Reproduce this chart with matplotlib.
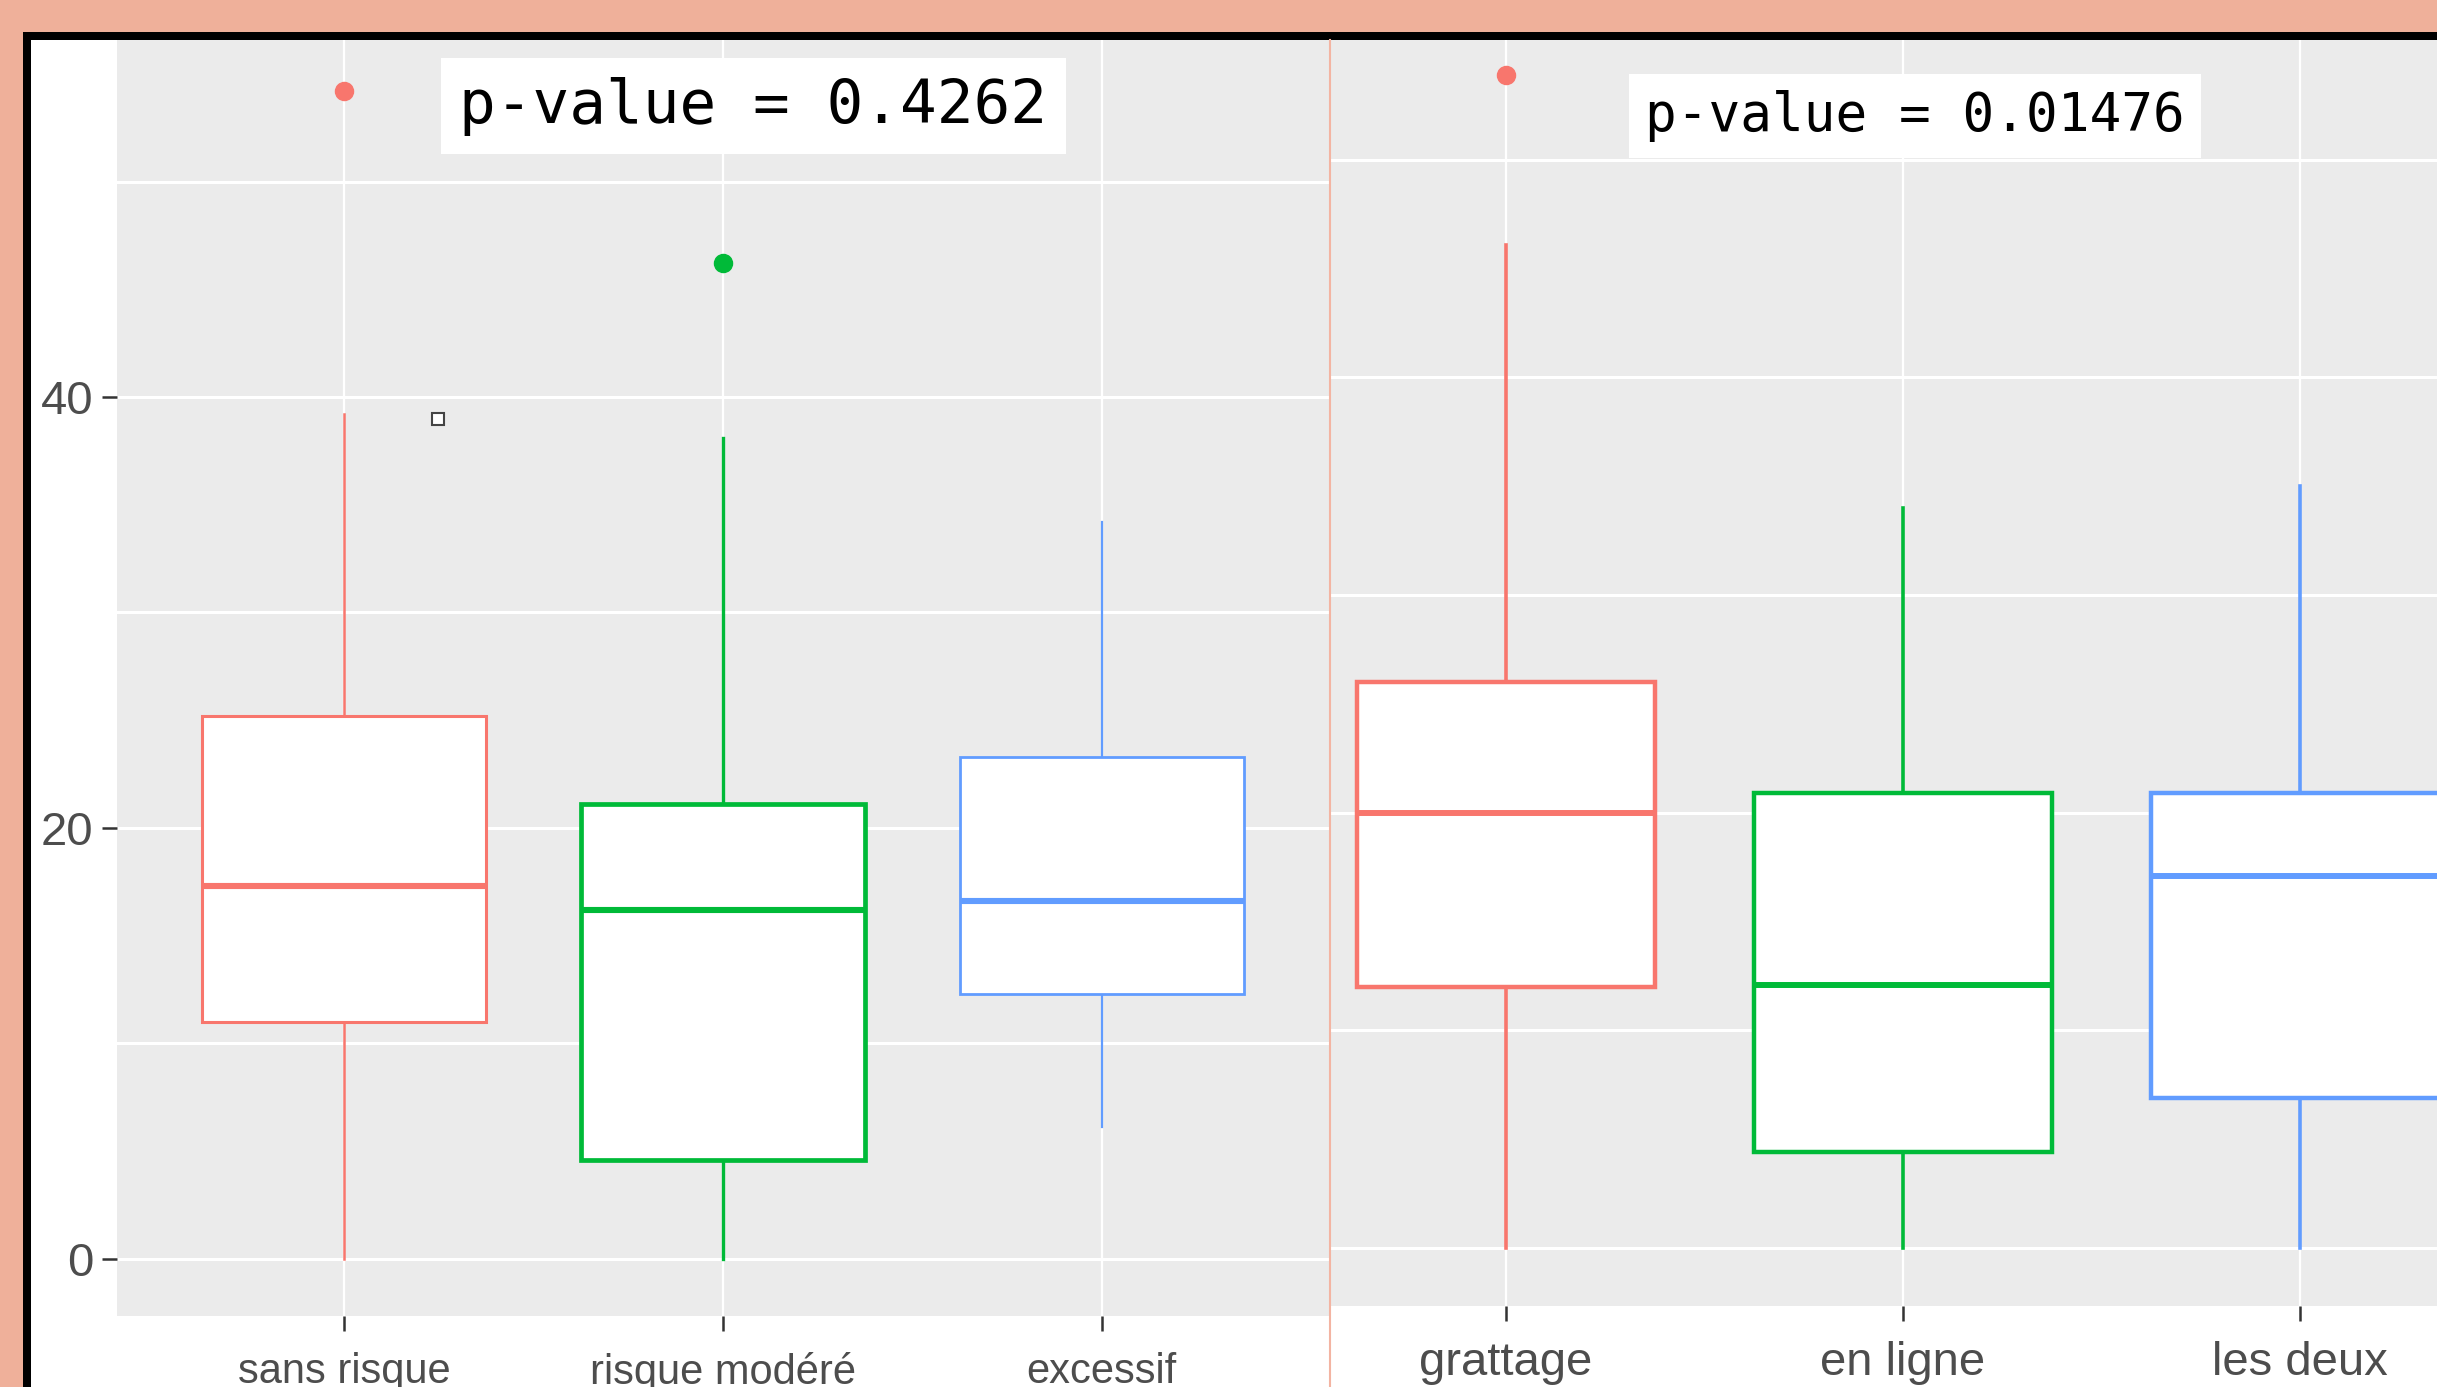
import numpy as np
import matplotlib.pyplot as plt
from matplotlib.patches import Rectangle
from matplotlib.lines import Line2D

## figure size in pixels (dpi 100)
W, H = 2437, 1387

## Data

left_cats = ['sans risque', 'risque modéré', 'excessif']
left_lo = [0.0, 0.0, 6.1]
left_q1 = [11.0, 4.6, 12.3]
left_med = [17.3, 16.2, 16.6]
left_q3 = [25.2, 21.1, 23.3]
left_hi = [39.2, 38.1, 34.2]
left_out = [[54.2], [46.2], []]
left_pval = 'p-value = 0.4262'

right_cats = ['grattage', 'en ligne', 'les deux']
right_lo = [0.0, 0.0, 0.0]
right_q1 = [12.0, 4.4, 6.9]
right_med = [20.0, 12.1, 17.1]
right_q3 = [26.0, 20.9, 20.9]
right_hi = [46.1, 34.0, 35.0]
right_out = [[53.9], [], []]
right_pval = 'p-value = 0.01476'

# stray little square in the left panel
stray_x = [1.247]
stray_y = [39.0]

colors = ['#F8766D', '#00BA38', '#619CFF']

## End of data


def px_axes(fig, x0, y0, x1, y1):
    # pixel box measured from the top-left corner -> axes
    return fig.add_axes([x0 / W, 1 - y1 / H, (x1 - x0) / W, (y1 - y0) / H])


def draw_boxes(ax, cats, lo, q1, med, q3, hi, out, box_lw, wh_lw, med_lw):
    stats = []
    for i in range(len(cats)):
        stats.append(dict(whislo=lo[i], q1=q1[i], med=med[i], q3=q3[i],
                          whishi=hi[i], fliers=out[i], label=cats[i]))
    art = ax.bxp(stats, positions=np.arange(1, len(cats) + 1), widths=0.75,
                 showcaps=False, patch_artist=True)
    for i, c in enumerate(colors):
        art['boxes'][i].set(facecolor='white', edgecolor=c, linewidth=box_lw[i], zorder=3)
        art['medians'][i].set(color=c, linewidth=med_lw[i], solid_capstyle='butt', zorder=4)
        for w in art['whiskers'][2 * i:2 * i + 2]:
            w.set(color=c, linewidth=wh_lw[i], zorder=2)
        art['fliers'][i].set(marker='o', markerfacecolor=c, markeredgecolor=c,
                             markersize=13, zorder=4)


def style_panel(ax, xlim, ylim):
    ax.set_facecolor('#EBEBEB')
    for s in ax.spines.values():
        s.set_visible(False)
    ax.set_xlim(*xlim)
    ax.set_ylim(*ylim)
    ax.set_axisbelow(True)
    ax.grid(True, which='both', color='white', linewidth=2.2)
    ax.xaxis.grid(True, linewidth=1.6)
    ax.tick_params(axis='x', length=11, width=1.8, color='#333333',
                   labelcolor='#4D4D4D')
    for lab in ax.get_xticklabels():
        lab.set_family(['Liberation Sans', 'DejaVu Sans'])


fig = plt.figure(figsize=(W / 100, H / 100), dpi=100)
fig.patch.set_facecolor('#EFB09A')

# black frame and white sheet
fig.add_artist(Rectangle((23 / W, 0), 1, 1 - 32 / H, transform=fig.transFigure,
                         facecolor='black', edgecolor='none', zorder=-3))
fig.add_artist(Rectangle((31 / W, 0), 1, 1 - 40 / H, transform=fig.transFigure,
                         facecolor='white', edgecolor='none', zorder=-2))

# left panel
ax1 = px_axes(fig, 117, 40, 1329, 1316)
draw_boxes(ax1, left_cats, left_lo, left_q1, left_med, left_q3, left_hi, left_out,
           box_lw=[2.2, 3.4, 2.0], wh_lw=[1.8, 2.4, 1.6], med_lw=[4.4, 4.4, 4.4])
ax1.plot(stray_x, stray_y, 's', markersize=8, markerfacecolor='white',
         markeredgecolor='#444444', markeredgewidth=1.5, zorder=5)
ax1.set_xticks([1, 2, 3], left_cats)
ax1.set_yticks([0, 20, 40])
ax1.set_yticks([10, 30, 50], minor=True)
style_panel(ax1, (0.4, 3.6), (-2.65, 56.57))
ax1.tick_params(axis='x', labelsize=30, pad=15)
ax1.tick_params(axis='y', which='major', length=11, width=1.8, color='#333333',
                labelcolor='#4D4D4D', labelsize=34, pad=6)
ax1.tick_params(axis='y', which='minor', length=0)
for lab in ax1.get_yticklabels():
    lab.set_family(['Liberation Sans', 'DejaVu Sans'])
ax1.text(2.08, 53.5, left_pval, family='DejaVu Sans Mono', fontsize=44,
         ha='center', va='center', zorder=6,
         bbox=dict(boxstyle='square,pad=0.3', facecolor='white', edgecolor='none'))

# right panel (cropped on both sides in the reference)
ax2 = px_axes(fig, 1331, 40, W, 1306)
draw_boxes(ax2, right_cats, right_lo, right_q1, right_med, right_q3, right_hi, right_out,
           box_lw=[3.2, 3.2, 3.2], wh_lw=[2.6, 2.6, 2.6], med_lw=[4.3, 4.3, 4.3])
ax2.set_xticks([1, 2, 3], right_cats)
ax2.set_yticks(np.arange(0, 60, 10), [''] * 6)
style_panel(ax2, (0.559, 3.345), (-2.67, 55.5))
ax2.tick_params(axis='x', labelsize=34, pad=14)
ax2.tick_params(axis='y', length=0)
ax2.text(2.03, 52.0, right_pval, family='DejaVu Sans Mono', fontsize=38,
         ha='center', va='center', zorder=6,
         bbox=dict(boxstyle='square,pad=0.3', facecolor='white', edgecolor='none'))

# thin seam between the two pasted panels
fig.add_artist(Line2D([1330 / W, 1330 / W], [0, 1 - 40 / H], transform=fig.transFigure,
                      color='#F3B4A2', linewidth=1.5, zorder=10))

fig.savefig('out.png', dpi=100, facecolor=fig.get_facecolor())
